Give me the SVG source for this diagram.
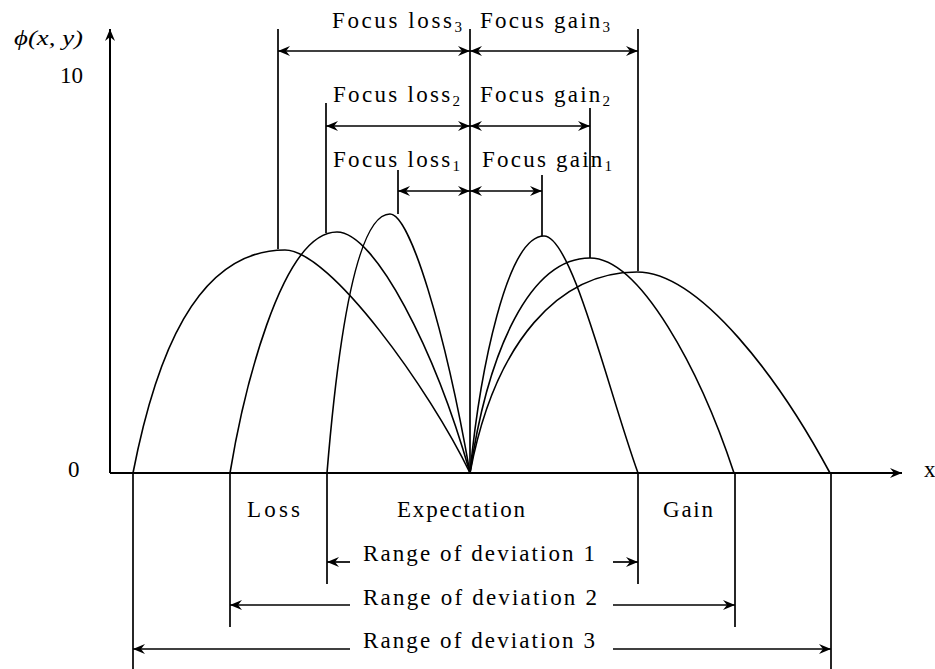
<svg xmlns="http://www.w3.org/2000/svg" width="935" height="669" viewBox="0 0 935 669">
  <style>
    text { font-family: "Liberation Serif", "Times New Roman", serif; fill: #000; }
    .lbl { font-size: 23px; }
    .sub { font-size: 15px; }
    .ax { stroke: #000; stroke-width: 2; fill: none; }
    .ln { stroke: #000; stroke-width: 1.7; fill: none; }
    .cv { stroke: #000; stroke-width: 1.6; fill: none; }
    .dim { stroke: #000; stroke-width: 1.7; fill: none; marker-start: url(#ah); marker-end: url(#ah); }
    .one { stroke: #000; stroke-width: 1.7; fill: none; marker-end: url(#ah); }
  </style>
  <defs>
    <marker id="ah" viewBox="0 0 12 10" refX="12" refY="5" markerWidth="12" markerHeight="10"
            orient="auto-start-reverse" markerUnits="userSpaceOnUse">
      <path d="M0,0 L12,5 L0,10 L4,5 z" fill="#000"/>
    </marker>
  </defs>
  <rect width="935" height="669" fill="#fff"/>

  <!-- axes -->
  <g id="axes">
    <line class="ax" x1="110" y1="473" x2="110" y2="29" style="marker-end:url(#ah)"/>
    <line class="ax" x1="110" y1="473" x2="902" y2="473" style="marker-end:url(#ah)"/>
    <text x="14" y="45" font-size="21" font-style="italic" textLength="69" lengthAdjust="spacingAndGlyphs">ϕ(x, y)</text>
    <text x="60" y="83" font-size="23" textLength="23">10</text>
    <text x="68" y="477" font-size="23">0</text>
    <text x="924" y="477" font-size="23">x</text>
  </g>

  <!-- distribution curves -->
  <g id="loss-curves">
    <path class="cv" d="M133,473 C155,360 195,250 285,250 C330,250 430,390 470,473"/>
    <path class="cv" d="M230,473 C242,400 280,232 337,232 C375,232 435,350 470,473"/>
    <path class="cv" d="M327,473 C333,400 350,214 390,214 C410,214 445,330 470,473"/>
  </g>
  <g id="gain-curves">
    <path class="cv" d="M470,473 C480,370 507,236 544,236 C572,236 608,390 638,473"/>
    <path class="cv" d="M470,473 C488,350 530,258 590,258 C640,258 700,370 734,473"/>
    <path class="cv" d="M470,473 C495,340 560,272 637,272 C700,272 780,380 830,473"/>
  </g>

  <!-- connectors: extension lines and dimension arrows -->
  <g id="connectors">
    <line class="ln" x1="470" y1="29" x2="470" y2="473"/>
    <line class="ln" x1="278" y1="29" x2="278" y2="249"/>
    <line class="ln" x1="326" y1="103" x2="326" y2="233"/>
    <line class="ln" x1="398" y1="170" x2="398" y2="214"/>
    <line class="ln" x1="542" y1="175" x2="542" y2="236"/>
    <line class="ln" x1="590" y1="108" x2="590" y2="258"/>
    <line class="ln" x1="638" y1="29" x2="638" y2="271"/>

    <line class="dim" x1="278" y1="51" x2="470" y2="51"/>
    <line class="dim" x1="470" y1="51" x2="638" y2="51"/>
    <line class="dim" x1="326" y1="126" x2="470" y2="126"/>
    <line class="dim" x1="470" y1="126" x2="590" y2="126"/>
    <line class="dim" x1="398" y1="191" x2="470" y2="191"/>
    <line class="dim" x1="470" y1="191" x2="542" y2="191"/>

    <line class="ln" x1="133" y1="473" x2="133" y2="669"/>
    <line class="ln" x1="230" y1="473" x2="230" y2="627"/>
    <line class="ln" x1="327" y1="473" x2="327" y2="584"/>
    <line class="ln" x1="638" y1="473" x2="638" y2="584"/>
    <line class="ln" x1="735" y1="473" x2="735" y2="627"/>
    <line class="ln" x1="831" y1="473" x2="831" y2="669"/>

    <line class="one" x1="350" y1="562" x2="327" y2="562"/>
    <line class="one" x1="613" y1="562" x2="638" y2="562"/>
    <line class="one" x1="350" y1="605" x2="230" y2="605"/>
    <line class="one" x1="613" y1="605" x2="735" y2="605"/>
    <line class="one" x1="350" y1="649" x2="133" y2="649"/>
    <line class="one" x1="613" y1="649" x2="831" y2="649"/>
  </g>

  <!-- focus labels -->
  <g id="focus-loss-3"><text class="lbl" x="332" y="28" textLength="130">Focus loss<tspan class="sub" dy="4">3</tspan></text></g>
  <g id="focus-gain-3"><text class="lbl" x="480" y="28" textLength="130">Focus gain<tspan class="sub" dy="4">3</tspan></text></g>
  <g id="focus-loss-2"><text class="lbl" x="333" y="102" textLength="127">Focus loss<tspan class="sub" dy="4">2</tspan></text></g>
  <g id="focus-gain-2"><text class="lbl" x="480" y="102" textLength="130">Focus gain<tspan class="sub" dy="4">2</tspan></text></g>
  <g id="focus-loss-1"><text class="lbl" x="333" y="167" textLength="127">Focus loss<tspan class="sub" dy="4">1</tspan></text></g>
  <g id="focus-gain-1"><text class="lbl" x="482" y="167" textLength="130">Focus gain<tspan class="sub" dy="4">1</tspan></text></g>

  <!-- region labels -->
  <g id="loss"><text class="lbl" x="247" y="517" textLength="53">Loss</text></g>
  <g id="expectation"><text class="lbl" x="397" y="517" textLength="128">Expectation</text></g>
  <g id="gain"><text class="lbl" x="663" y="517" textLength="50">Gain</text></g>

  <!-- deviation ranges -->
  <g id="range-1"><text class="lbl" x="363" y="561" textLength="232">Range of deviation 1</text></g>
  <g id="range-2"><text class="lbl" x="363" y="605" textLength="234">Range of deviation 2</text></g>
  <g id="range-3"><text class="lbl" x="363" y="648" textLength="232">Range of deviation 3</text></g>
</svg>
